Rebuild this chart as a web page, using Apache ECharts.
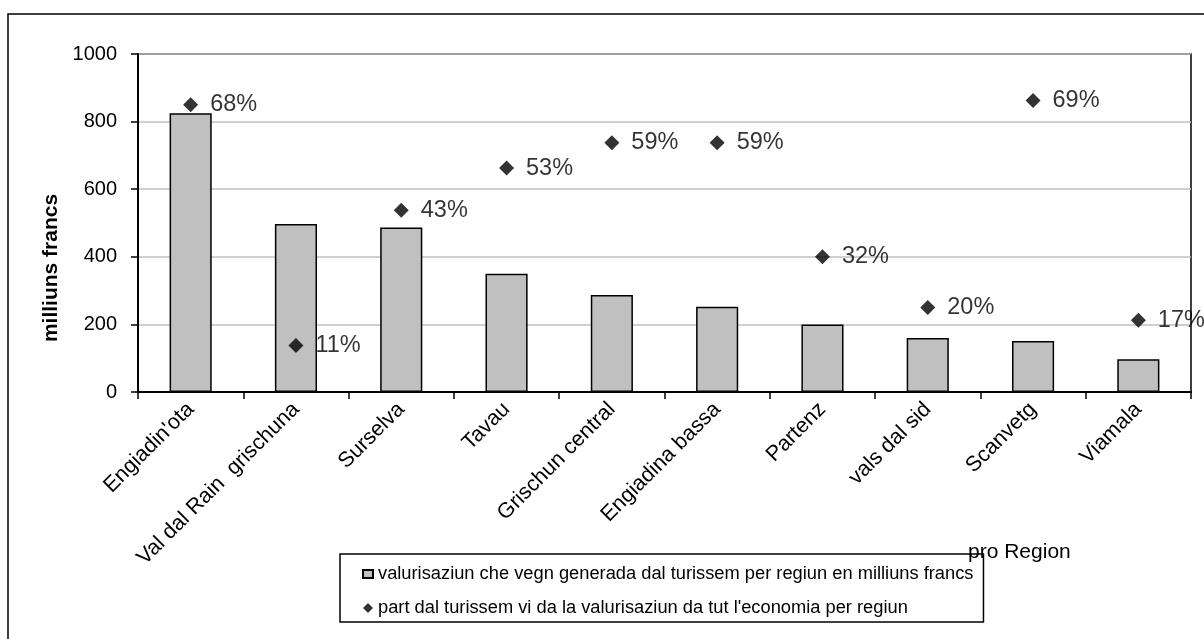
<!DOCTYPE html>
<html>
<head>
<meta charset="utf-8">
<script src="https://cdn.jsdelivr.net/npm/echarts@6/dist/echarts.min.js"></script>
<style>
html,body{margin:0;padding:0;background:#fff;}
#chart{width:1204px;height:639px;}
</style>
</head>
<body>
<div id="chart"></div>
<script>
const categories = ["Engiadin'ota", "Val dal Rain  grischuna", "Surselva", "Tavau", "Grischun central", "Engiadina bassa", "Partenz", "vals dal sid", "Scanvetg", "Viamala"];
const valueAdded = [825, 497, 487, 350, 287, 252, 200, 160, 151, 97];
const tourismShare = [68, 11, 43, 53, 59, 59, 32, 20, 69, 17];
const yTicks = [0, 200, 400, 600, 800, 1000];
const barName = "valurisaziun che vegn generada dal turissem per regiun en milliuns francs";
const shareName = "part dal turissem vi da la valurisaziun da tut l'economia per regiun";

const FONT = "'Liberation Sans', Arial, sans-serif";
const chart = echarts.init(document.getElementById('chart'));
chart.setOption({
  backgroundColor: '#fff',
  animation: false,
  textStyle: { fontFamily: FONT, color: '#000' },
  grid: { left: 138, right: 13, top: 54, bottom: 247, show: true, borderColor: '#000', borderWidth: 1.5 },
  legend: {
    orient: 'vertical',
    left: 340, top: 554,
    padding: [11, 10, 5, 22],
    itemGap: 16,
    itemWidth: 10, itemHeight: 10,
    borderColor: '#000', borderWidth: 1.5,
    textStyle: { fontFamily: FONT, fontSize: 18.3, color: '#000' },
    data: [
      { name: barName, icon: 'path://M0,1L10,1L10,9L0,9Z' },
      { name: shareName, icon: 'path://M5,0L10,5L5,10L0,5Z' }
    ]
  },
  xAxis: {
    type: 'category',
    data: categories,
    axisLine: { lineStyle: { color: '#000', width: 2 } },
    axisTick: { show: true, interval: 0, length: 7, lineStyle: { color: '#000', width: 1.5 } },
    axisLabel: { interval: 0, rotate: 45, margin: 14, fontSize: 21.5, color: '#000', fontFamily: FONT }
  },
  yAxis: [{
    type: 'value', min: 0, max: 1000, interval: 200,
    name: 'milliuns francs', nameLocation: 'middle', nameGap: 75,
    nameTextStyle: { fontSize: 21, fontWeight: 'bold', color: '#000', fontFamily: FONT, padding: [0, 90, 0, 0] },
    axisLine: { show: true, lineStyle: { color: '#000', width: 2 } },
    axisTick: { show: true, length: 7, lineStyle: { color: '#000', width: 1.5 } },
    axisLabel: { margin: 21, fontSize: 20, color: '#000', fontFamily: FONT,
      formatter: v => yTicks.includes(v) ? String(v) : '' },
    splitLine: { lineStyle: { color: '#c0c0c0', width: 1.5 } }
  }, {
    type: 'value', min: 0, max: 80, show: false, splitLine: { show: false }
  }],
  series: [{
    name: barName,
    type: 'bar',
    data: valueAdded,
    barWidth: '40%',
    itemStyle: { color: '#c0c0c0', borderColor: '#000', borderWidth: 1.5 }
  }, {
    name: shareName,
    type: 'scatter',
    yAxisIndex: 1,
    data: tourismShare,
    symbol: 'diamond',
    symbolSize: 15,
    itemStyle: { color: '#000' },
    label: { show: true, position: 'right', distance: 12, fontSize: 23.5, color: '#000', fontFamily: FONT,
      formatter: p => p.value + '%' }
  }],
  graphic: [
    { type: 'rect', z: -10, silent: true, shape: { x: 8, y: 14, width: 1220, height: 660 },
      style: { fill: 'none', stroke: '#000', lineWidth: 1.5 } },
    { type: 'text', left: 968, top: 542, silent: true,
      style: { text: 'pro Region', font: "21px 'Liberation Sans', Arial, sans-serif", fill: '#000' } }
  ]
});
</script>
</body>
</html>
